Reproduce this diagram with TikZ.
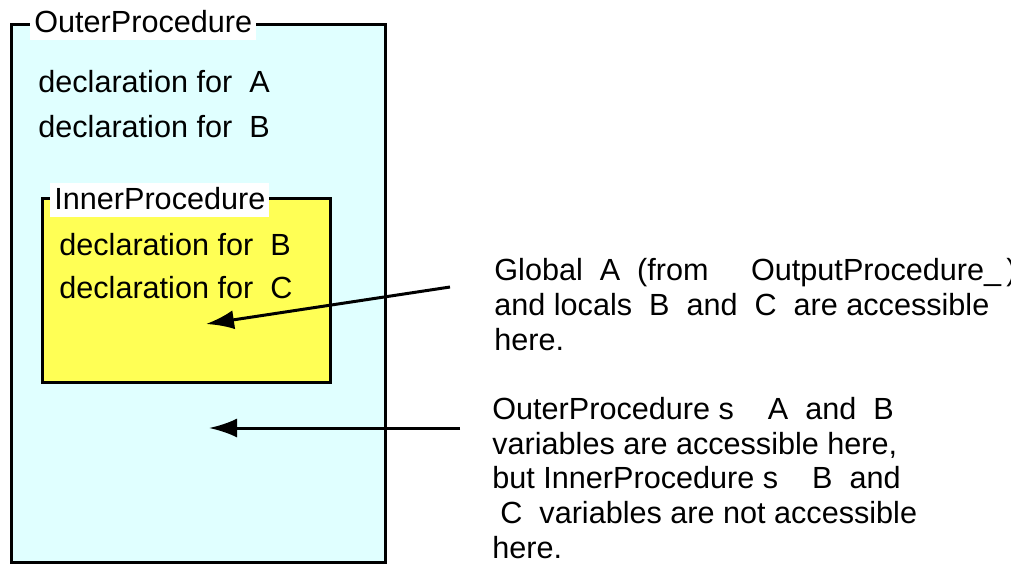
\documentclass[tikz,border=0pt]{standalone}
\usepackage{fontspec}
\setmainfont{Liberation Sans}
\usetikzlibrary{arrows.meta}
\definecolor{outerfill}{RGB}{224,255,255}
\definecolor{innerfill}{RGB}{255,255,85}

\begin{document}
\begin{tikzpicture}[x=0.5pt,y=-0.5pt,
  font=\fontsize{15.3}{17.3}\selectfont,
  box/.style={draw,line width=1.5pt},
  title/.style={fill=white,inner xsep=2pt,inner ysep=1pt,text height=12pt,text depth=3pt,anchor=base west},
  decl/.style={inner sep=0pt,anchor=base west},
  note/.style={inner sep=0pt,anchor=base west,align=left},
  pointer/.style={-{Latex[length=14pt,width=9.5pt]},line width=1.5pt}]
\useasboundingbox (0,0) rectangle (1011,564);

% outer procedure
\draw[box,fill=outerfill] (11,24) rectangle (385,562);
\node (outer) at (30,32)[title] {OuterProcedure};
\node (declA) at (38,92)[decl] {declaration for\ \ A};
\node (declB) at (38,137)[decl] {declaration for\ \ B};

% inner procedure
\draw[box,fill=innerfill] (42,198) rectangle (330,382);
\node (inner) at (50,209)[title] {InnerProcedure\ };
\node (innerB) at (59,255)[decl] {declaration for\ \ B};
\node (innerC) at (59,298)[decl] {declaration for\ \ C};

% notes (base = last line)
\node (noteInner) at (494,350)[note] {Global\ \ A\ \ (from\ \ \ \ \ OutputProcedure\_\,)\\
  and locals\ \ B\ \ and\ \ C\ \ are accessible\\
  here.};
\node (noteOuter) at (492,558)[note] {OuterProcedure s\ \ \ \ A\ \ and\ \ B\\
  variables are accessible here,\\
  but InnerProcedure s\ \ \ \ B\ \ and\\
  \hspace*{4pt}C\ \ variables are not accessible\\
  here.};

% pointers
\coordinate (fromInner) at (450,287);
\coordinate (tipInner) at (206,324);
\coordinate (fromOuter) at (460,428);
\coordinate (tipOuter) at (209,428);
\draw [pointer] (fromInner) -- (tipInner);
\draw [pointer] (fromOuter) -- (tipOuter);
\end{tikzpicture}
\end{document}
